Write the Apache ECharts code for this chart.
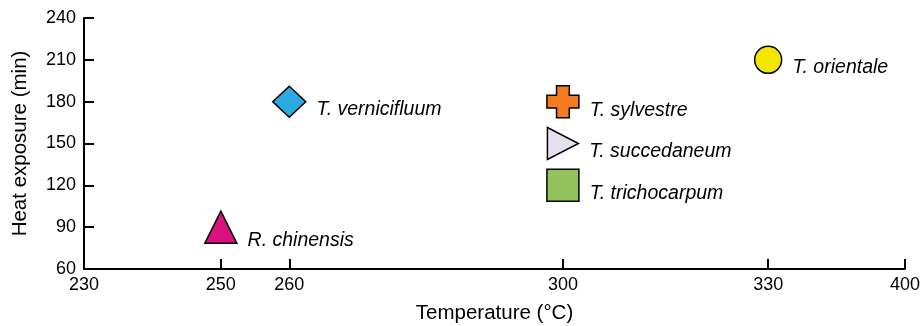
<!DOCTYPE html>
<html>
<head>
<meta charset="utf-8">
<script src="https://cdn.jsdelivr.net/npm/echarts@6.0.0/dist/echarts.min.js"></script>
<style>
    html, body { margin: 0; padding: 0; background: #fff; }
    #chart { width: 922px; height: 326px; }
</style>
</head>
<body>
<div id="chart"></div>
<script>
// species and their treatment settings
var species = ["R. chinensis", "T. vernicifluum", "T. sylvestre", "T. succedaneum", "T. trichocarpum", "T. orientale"];
var temperatures = [250, 260, 300, 300, 300, 330];
var exposures = [90, 180, 180, 150, 120, 210];
var xTicks = [230, 250, 260, 300, 330, 400];

var symbols = [
    "triangle",
    "diamond",
    "path://M3,0 H7 V3 H10 V7 H7 V10 H3 V7 H0 V3 H3 Z",
    "path://M0,0 L10,5 L0,10 Z",
    "rect",
    "circle"
];
var colors = ["#d6127f", "#29abe2", "#f47b20", "#e5dfee", "#93c35a", "#f2e500"];
var sizes = [[32, 32], [33, 31], [32, 32], [31, 32], [32, 32], [27, 27]];
var labelOffsets = [[0, 13], [0, 8], [0, 9], [0, 8], [0, 8], [0, 8]];

var chart = echarts.init(document.getElementById("chart"));

var data = species.map(function (name, i) {
    return {
        name: name,
        value: [temperatures[i], exposures[i]],
        symbol: symbols[i],
        symbolSize: sizes[i],
        itemStyle: {color: colors[i]},
        label: {offset: labelOffsets[i]}
    };
});

var axisFont = {fontFamily: "Liberation Sans", fontSize: 18, color: "#000"};

var option = {
    animation: false,
    grid: {left: 84, right: 17, top: 18, bottom: 57, containLabel: false, outerBoundsMode: "none"},
    xAxis: {
        type: "value",
        min: 230,
        max: 400,
        // 330-400 is squeezed, as in the original figure
        breaks: [{start: 340, end: 390, gap: 0}],
        breakArea: {show: false},
        name: "Temperature (°C)",
        nameLocation: "middle",
        nameGap: 34,
        nameTextStyle: {fontFamily: "Liberation Sans", fontSize: 20.5, color: "#000"},
        axisLine: {lineStyle: {color: "#000", width: 2}},
        axisTick: {show: true, inside: true, length: 10, lineStyle: {color: "#000", width: 2}, customValues: xTicks},
        axisLabel: Object.assign({margin: 7, customValues: xTicks}, axisFont),
        splitLine: {show: false}
    },
    yAxis: {
        type: "value",
        min: 60,
        max: 240,
        interval: 30,
        name: "Heat exposure (min)",
        nameLocation: "middle",
        nameGap: 53,
        nameTextStyle: {fontFamily: "Liberation Sans", fontSize: 20.5, color: "#000"},
        axisLine: {show: true, lineStyle: {color: "#000", width: 2}},
        axisTick: {show: true, inside: true, length: 10, lineStyle: {color: "#000", width: 2}},
        axisLabel: Object.assign({margin: 8}, axisFont),
        splitLine: {show: false}
    },
    series: [{
        type: "scatter",
        data: data,
        itemStyle: {borderColor: "#000", borderWidth: 1.5, opacity: 1},
        label: {
            show: true,
            position: "right",
            distance: 10,
            formatter: "{b}",
            fontFamily: "Liberation Sans",
            fontStyle: "italic",
            fontSize: 19.5,
            color: "#000"
        },
        z: 3
    }]
};

chart.setOption(option);
</script>
</body>
</html>
